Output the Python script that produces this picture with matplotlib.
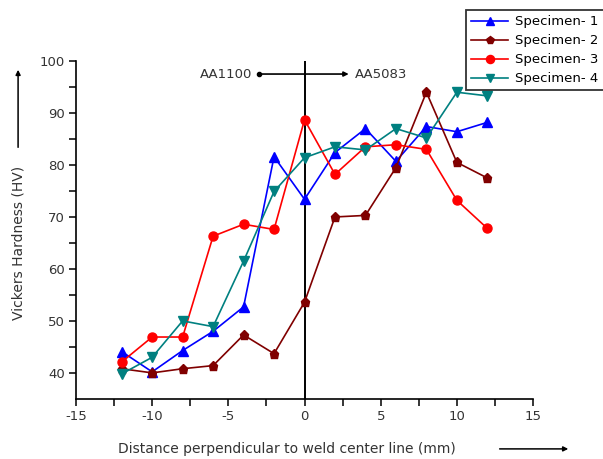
import matplotlib
matplotlib.use("Agg")
import matplotlib.pyplot as plt
from matplotlib.patches import FancyArrowPatch

plt.rcParams['font.family'] = ['DejaVu Sans']
plt.rcParams['axes.unicode_minus'] = False

distance = [-12, -10, -8, -6, -4, -2, 0, 2, 4, 6, 8, 10, 12]
specimen_1 = [44.1, 40.2, 44.3, 48.0, 52.7, 81.6, 73.4, 82.4, 87.0, 80.7, 87.4, 86.4, 88.2]
specimen_2 = [40.8, 40.0, 40.8, 41.4, 47.3, 43.7, 53.6, 70.0, 70.3, 79.5, 94.0, 80.5, 77.5]
specimen_3 = [42.1, 46.9, 46.9, 66.3, 68.6, 67.6, 88.7, 78.2, 83.5, 83.9, 83.0, 73.2, 67.8]
specimen_4 = [39.8, 43.0, 50.0, 48.9, 61.5, 74.9, 81.4, 83.5, 82.9, 87.0, 85.2, 94.0, 93.3]
labels = ["Specimen- 1", "Specimen- 2", "Specimen- 3", "Specimen- 4"]
colors = ["#0000FF", "#800000", "#FF0000", "#008080"]
markers = ["^", "p", "o", "v"]

TXT = "#333333"
FS = 9.5

fig = plt.figure(figsize=(6.03, 4.59), dpi=100)
ax = fig.add_axes([0.126, 0.131, 0.758, 0.736])

for ys, lab, c, m in zip([specimen_1, specimen_2, specimen_3, specimen_4], labels, colors, markers):
    ax.plot(distance, ys, color=c, marker=m, markersize=6.5, linewidth=1.2,
            label=lab)

# weld centre line and base-metal indicator
ax.plot([0, 0], [35, 100], color="black", linewidth=1.4, zorder=1)
ax.annotate("", xy=(2.9, 97.5), xytext=(-3.0, 97.5),
            arrowprops=dict(arrowstyle="-|>", color="black", lw=1.2,
                            mutation_scale=7, shrinkA=0, shrinkB=0))
ax.plot([-3.0], [97.5], marker="o", color="black", markersize=3)
ax.text(-3.4, 97.5, "AA1100", ha="right", va="center", fontsize=FS, color=TXT)
ax.text(3.3, 97.5, "AA5083", ha="left", va="center", fontsize=FS, color=TXT)

ax.set_xlim(-15, 15)
ax.set_ylim(35, 100)
ax.set_xticks([-15, -10, -5, 0, 5, 10, 15])
ax.set_xticks([-12.5, -7.5, -2.5, 2.5, 7.5, 12.5], minor=True)
ax.set_yticks([40, 50, 60, 70, 80, 90, 100])
ax.set_yticks([45, 55, 65, 75, 85, 95], minor=True)
ax.tick_params(which="both", direction="out", length=5, width=1.1, labelsize=FS,
               labelcolor=TXT, pad=3)
for s in ["top", "right"]:
    ax.spines[s].set_visible(False)
for s in ["left", "bottom"]:
    ax.spines[s].set_linewidth(1.2)

leg = ax.legend(loc="upper left", bbox_to_anchor=(0.773, 0.978),
                bbox_transform=fig.transFigure, borderaxespad=0, fontsize=FS,
                frameon=True, fancybox=False, edgecolor="black", borderpad=0.4,
                labelspacing=0.45, handlelength=2.8, handletextpad=0.5,
                markerscale=0.9)
leg.get_frame().set_linewidth(1.3)

fig.text(0.196, 0.022, "Distance perpendicular to weld center line (mm)",
         fontsize=10, color=TXT, ha="left", va="center")
fig.add_artist(FancyArrowPatch(
    (0.824, 0.022), (0.947, 0.022), transform=fig.transFigure,
    arrowstyle="-|>", mutation_scale=7, color="black", lw=1.1))

fig.text(0.03, 0.47, "Vickers Hardness (HV)", rotation=90, fontsize=10,
         color=TXT, ha="center", va="center")
fig.add_artist(FancyArrowPatch(
    (0.03, 0.673), (0.03, 0.854), transform=fig.transFigure,
    arrowstyle="-|>", mutation_scale=7, color="black", lw=1.1))

fig.savefig("out.png", dpi=100)
